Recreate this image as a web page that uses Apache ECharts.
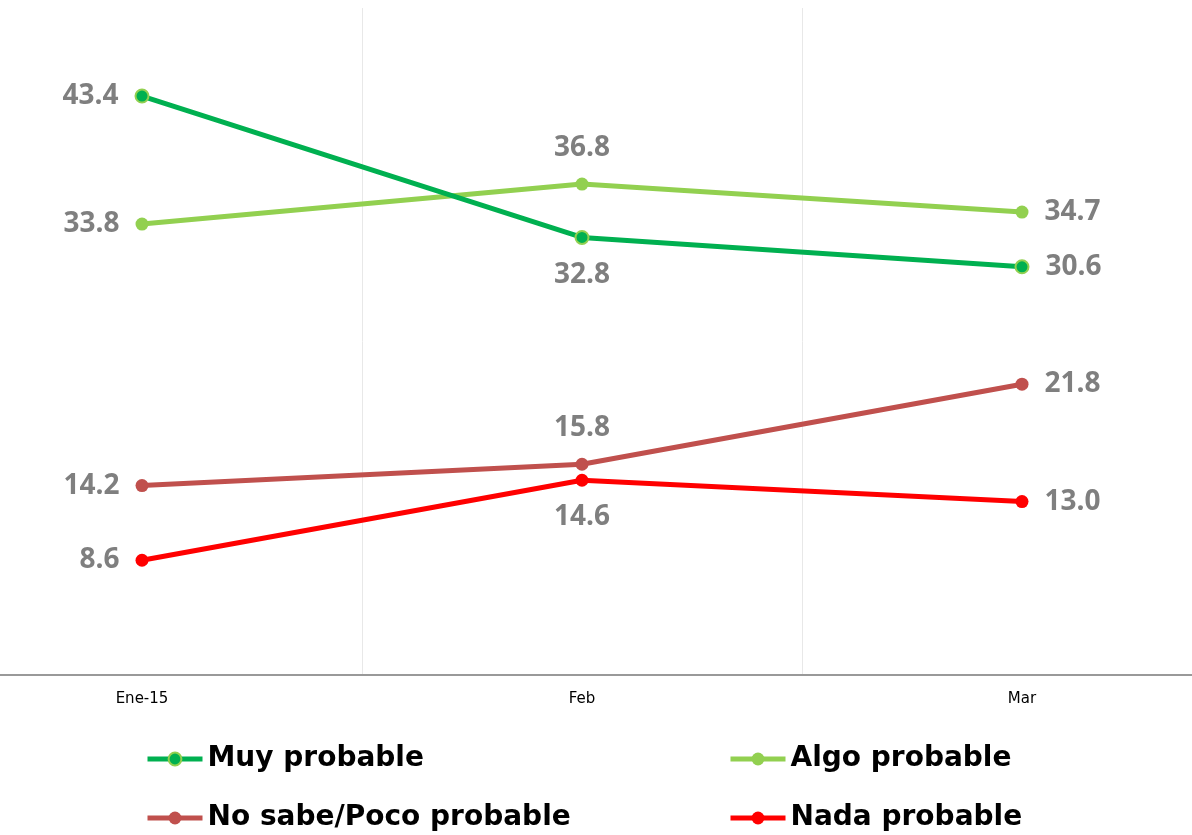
<!DOCTYPE html>
<html>
<head>
<meta charset="utf-8">
<script src="https://cdn.jsdelivr.net/npm/echarts@6/dist/echarts.min.js"></script>
<style>
html,body{margin:0;padding:0;background:#fff;}
#chart{width:1192px;height:835px;}
</style>
</head>
<body>
<div id="chart"></div>
<script>
var categories = ['Ene-15', 'Feb', 'Mar'];
var seriesNames = ['Muy probable', 'Algo probable', 'No sabe/Poco probable', 'Nada probable'];
var muyProbable = [43.4, 32.8, 30.6];
var algoProbable = [33.8, 36.8, 34.7];
var noSabe = [14.2, 15.8, 21.8];
var nadaProbable = [8.6, 14.6, 13.0];

var labelPositions = [
  ['left', 'bottom', 'right'],
  ['left', 'top', 'right'],
  ['left', 'top', 'right'],
  ['left', 'bottom', 'right']
];
var colors = ['#00b050', '#92d050', '#c0504d', '#ff0000'];
var borders = ['#92d050', '#92d050', '#c0504d', '#ff0000'];
var allValues = [muyProbable, algoProbable, noSabe, nadaProbable];

function makeSeries(i) {
  return {
    name: seriesNames[i],
    type: 'line',
    data: allValues[i].map(function (v, j) {
      return { value: v, label: { position: labelPositions[i][j] } };
    }),
    symbol: 'circle',
    symbolSize: 13,
    lineStyle: { color: colors[i], width: 5 },
    itemStyle: { color: colors[i], borderColor: borders[i], borderWidth: i === 0 ? 2 : 0 },
    label: {
      show: true,
      distance: 16,
      color: '#7f7f7f',
      fontFamily: 'Open Sans',
      fontWeight: 'bold',
      fontSize: 28,
      formatter: function (p) { return p.value.toFixed(1); }
    },
    emphasis: { disabled: true },
    z: 10 - i
  };
}

function legendItem(name, left, top) {
  return {
    orient: 'horizontal',
    left: left,
    top: top,
    padding: 0,
    itemWidth: 55,
    itemHeight: 16,
    lineStyle: { width: 5 },
    textStyle: { fontFamily: 'DejaVu Sans', fontWeight: 'bold', fontSize: 28, color: '#000' },
    data: [name]
  };
}

var chart = echarts.init(document.getElementById('chart'));
chart.setOption({
  animation: false,
  backgroundColor: '#fff',
  grid: { left: -78, right: -50, top: 8, bottom: 160, containLabel: false, outerBoundsMode: 'none' },
  xAxis: {
    type: 'category',
    data: categories,
    boundaryGap: true,
    axisLine: { show: true, lineStyle: { color: '#999', width: 2 } },
    axisTick: { show: false },
    axisLabel: { fontFamily: 'DejaVu Sans', fontSize: 15, color: '#000', margin: 17 },
    splitLine: { show: true, lineStyle: { color: '#e8e8e8', width: 1 } }
  },
  yAxis: {
    type: 'value',
    min: 0,
    max: 50,
    show: false,
    splitLine: { show: false }
  },
  legend: [
    legendItem(seriesNames[0], 145, 745),
    legendItem(seriesNames[1], 728, 745),
    legendItem(seriesNames[2], 145, 804),
    legendItem(seriesNames[3], 728, 804)
  ],
  series: [0, 1, 2, 3].map(makeSeries)
});
</script>
</body>
</html>
